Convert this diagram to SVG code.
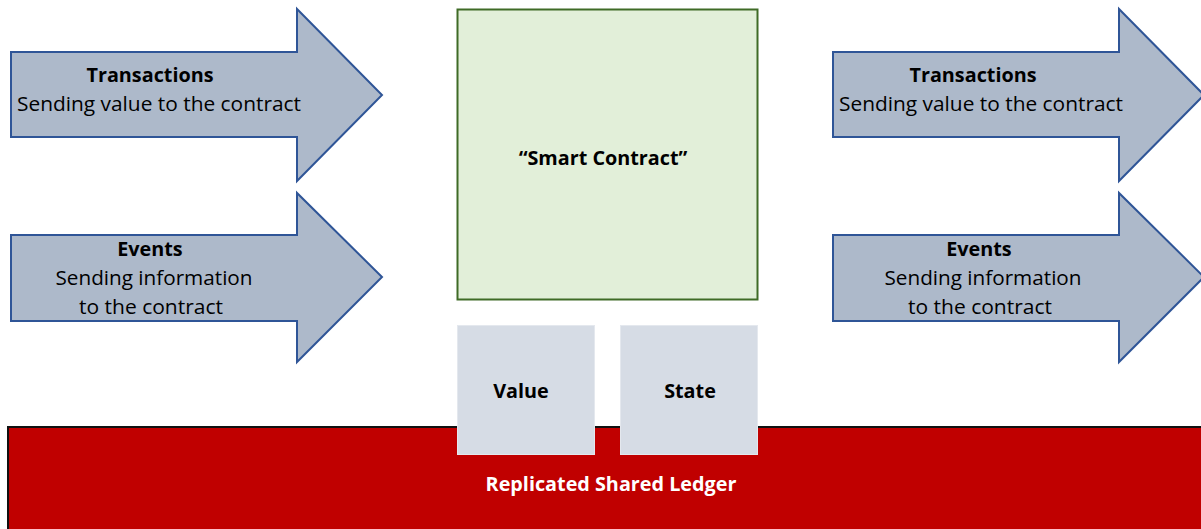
<svg xmlns="http://www.w3.org/2000/svg" width="1201" height="529" viewBox="0 0 1201 529">
  <defs>
    <style>
      .arrow { fill: #adb9ca; stroke: #2f5597; stroke-width: 2; stroke-linejoin: miter; }
      .t { font-family: "Open Sans", "Noto Sans", sans-serif; font-size: 20.5px; fill: #000; text-anchor: middle; }
      .b { font-weight: bold; font-size: 19.8px; }
      .small { fill: #d6dce5; stroke: #e4e8ee; stroke-width: 1; }
    </style>
  </defs>
  <rect width="1201" height="529" fill="#ffffff"/>

  <!-- shared ledger along the bottom -->
  <g id="ledger">
    <rect x="8" y="427" width="1200" height="110" fill="#c00000" stroke="#111" stroke-width="2"/>
    <text class="t b" x="611" y="491" style="fill:#ffffff">Replicated Shared Ledger</text>
  </g>

  <!-- contract box -->
  <g id="smart-contract">
    <rect x="457.5" y="9.5" width="300" height="290" fill="#e2efd9" stroke="#3f6b26" stroke-width="2"/>
    <text class="t b" x="603" y="165">“Smart Contract”</text>
  </g>

  <g id="value">
    <rect class="small" x="457.5" y="325.5" width="137" height="129"/>
    <text class="t b" x="521" y="398">Value</text>
  </g>

  <g id="state">
    <rect class="small" x="620.5" y="325.5" width="137" height="129"/>
    <text class="t b" x="690" y="398">State</text>
  </g>

  <!-- incoming arrows -->
  <g id="in-transactions">
    <polygon class="arrow" points="11,52 297,52 297,9 382,95 297,181 297,137 11,137"/>
    <text class="t b" x="150" y="82">Transactions</text>
    <text class="t" x="159" y="111" textLength="284" lengthAdjust="spacingAndGlyphs">Sending value to the contract</text>
  </g>

  <g id="in-events">
    <polygon class="arrow" points="11,235 297,235 297,193 382,277 297,362 297,321 11,321"/>
    <text class="t b" x="150" y="256">Events</text>
    <text class="t" x="154" y="285" textLength="197" lengthAdjust="spacingAndGlyphs">Sending information</text>
    <text class="t" x="151" y="314" textLength="144" lengthAdjust="spacingAndGlyphs">to the contract</text>
  </g>

  <!-- outgoing arrows -->
  <g id="out-transactions">
    <polygon class="arrow" points="833,52 1119,52 1119,9 1204,95 1119,181 1119,137 833,137"/>
    <text class="t b" x="973" y="82">Transactions</text>
    <text class="t" x="981" y="111" textLength="284" lengthAdjust="spacingAndGlyphs">Sending value to the contract</text>
  </g>

  <g id="out-events">
    <polygon class="arrow" points="833,235 1119,235 1119,193 1204,277 1119,362 1119,321 833,321"/>
    <text class="t b" x="979" y="256">Events</text>
    <text class="t" x="983" y="285" textLength="197" lengthAdjust="spacingAndGlyphs">Sending information</text>
    <text class="t" x="980" y="314" textLength="144" lengthAdjust="spacingAndGlyphs">to the contract</text>
  </g>

  <g id="connectors"></g>
</svg>
